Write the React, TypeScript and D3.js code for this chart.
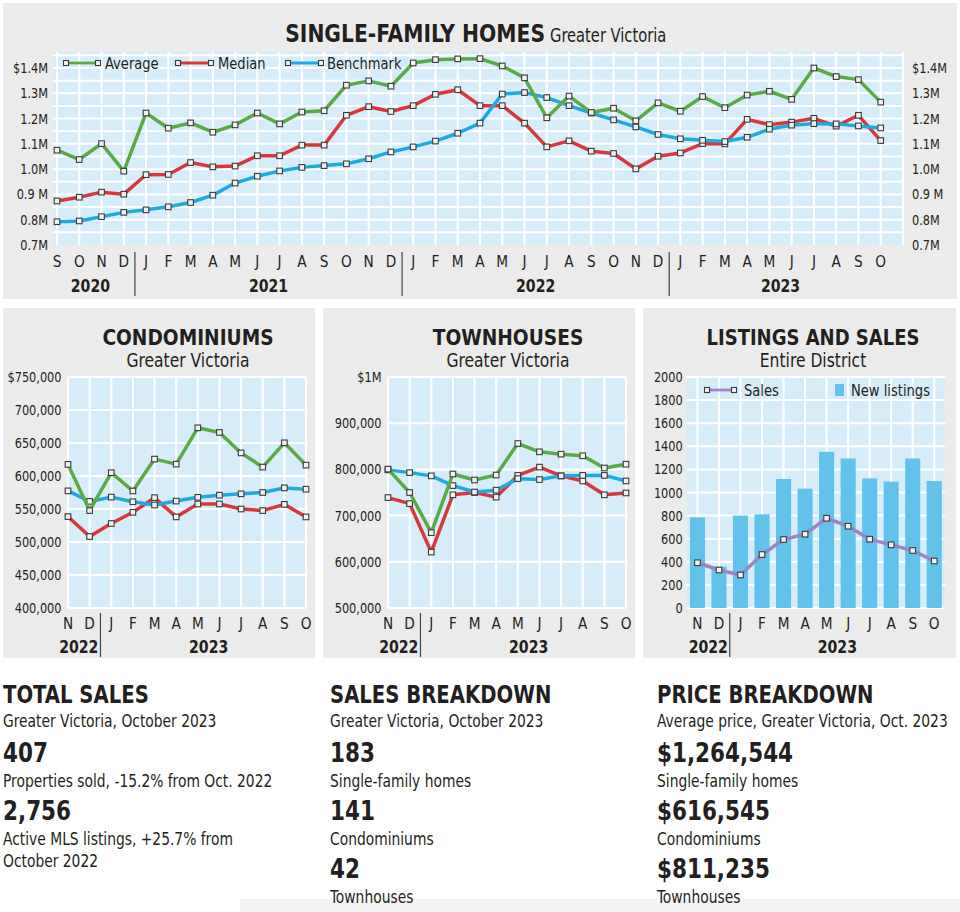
import React from 'react';
import * as d3 from 'd3';

const FONT = "'DejaVu Sans Condensed', 'Liberation Sans Narrow', 'Open Sans', sans-serif";

// ---------- Single-family (top) ----------
const topMonths = ['S','O','N','D','J','F','M','A','M','J','J','A','S','O','N','D','J','F','M','A','M','J','J','A','S','O','N','D','J','F','M','A','M','J','J','A','S','O'];
const topYears = [
  { label: '2020', from: 0, to: 3 },
  { label: '2021', from: 4, to: 15 },
  { label: '2022', from: 16, to: 27 },
  { label: '2023', from: 28, to: 37 },
];
const sfAverage = [1.075,1.038,1.101,0.992,1.222,1.162,1.183,1.146,1.175,1.222,1.179,1.226,1.231,1.332,1.349,1.328,1.42,1.433,1.436,1.437,1.408,1.361,1.203,1.289,1.224,1.241,1.191,1.262,1.229,1.287,1.243,1.293,1.308,1.276,1.4,1.366,1.354,1.265];
const sfMedian = [0.874,0.889,0.909,0.901,0.978,0.979,1.026,1.009,1.012,1.053,1.053,1.095,1.095,1.213,1.247,1.228,1.251,1.296,1.314,1.251,1.251,1.182,1.088,1.112,1.071,1.062,1.001,1.051,1.064,1.101,1.1,1.197,1.176,1.186,1.201,1.17,1.213,1.113];
const sfBenchmark = [0.792,0.795,0.812,0.829,0.839,0.851,0.868,0.897,0.945,0.972,0.993,1.007,1.014,1.021,1.041,1.068,1.088,1.111,1.142,1.182,1.297,1.303,1.283,1.251,1.222,1.195,1.167,1.137,1.12,1.114,1.109,1.126,1.158,1.174,1.18,1.179,1.171,1.163];
const sfTicks = [0.7,0.8,0.9,1.0,1.1,1.2,1.3,1.4];
const sfTickLabels = ['0.7M','0.8M','0.9 M','1.0M','1.1M','1.2M','1.3M','$1.4M'];

// ---------- 12-month panels ----------
const shortMonths = ['N','D','J','F','M','A','M','J','J','A','S','O'];
const shortYears = [
  { label: '2022', from: 0, to: 1 },
  { label: '2023', from: 2, to: 11 },
];
const condoAverage = [617600,547600,605000,577300,625600,618000,673000,666000,635000,613500,650300,616500];
const condoMedian = [538500,508300,528000,545000,567200,538000,557600,557600,550000,547600,557000,538000];
const condoBenchmark = [577500,561500,568000,561000,556000,562000,567700,571000,573000,575000,582000,580000];
const condoTicks = [400000,450000,500000,550000,600000,650000,700000,750000];
const condoTickLabels = ['400,000','450,000','500,000','550,000','600,000','650,000','700,000','$750,000'];

const townAverage = [800700,750000,663000,790000,777000,787800,856000,838000,833000,829500,803000,811200];
const townMedian = [739000,726000,621000,745000,750000,740000,787000,805000,786000,775000,745000,749000];
const townBenchmark = [799000,793000,786000,765000,751000,755000,780000,778000,786000,787000,787000,775000];
const townTicks = [500000,600000,700000,800000,900000,1000000];
const townTickLabels = ['500,000','600,000','700,000','800,000','900,000','$1M'];

const newListings = [785,358,800,811,1117,1033,1352,1295,1122,1094,1295,1099];
const sales = [392,329,286,463,593,639,777,708,596,547,498,407];
const listTicks = [0,200,400,600,800,1000,1200,1400,1600,1800,2000];

// ---------- text blocks ----------
const totalSalesLines = [
  { t: 'TOTAL SALES', k: 'h' },
  { t: 'Greater Victoria, October 2023', k: 's' },
  { t: '407', k: 'n' },
  { t: 'Properties sold, -15.2% from Oct. 2022', k: 's' },
  { t: '2,756', k: 'n' },
  { t: 'Active MLS listings, +25.7% from', k: 's' },
  { t: 'October 2022', k: 's2' },
];
const salesBreakdownLines = [
  { t: 'SALES BREAKDOWN', k: 'h' },
  { t: 'Greater Victoria, October 2023', k: 's' },
  { t: '183', k: 'n' },
  { t: 'Single-family homes', k: 's' },
  { t: '141', k: 'n' },
  { t: 'Condominiums', k: 's' },
  { t: '42', k: 'n' },
  { t: 'Townhouses', k: 's' },
];
const priceBreakdownLines = [
  { t: 'PRICE BREAKDOWN', k: 'h' },
  { t: 'Average price, Greater Victoria, Oct. 2023', k: 's' },
  { t: '$1,264,544', k: 'n' },
  { t: 'Single-family homes', k: 's' },
  { t: '$616,545', k: 'n' },
  { t: 'Condominiums', k: 's' },
  { t: '$811,235', k: 'n' },
  { t: 'Townhouses', k: 's' },
];

const GREEN = '#5aaa46';
const RED = '#d8383b';
const BLUE = '#1fa9e1';
const PURPLE = '#9a86c2';
const PLOT_BG = '#d6edf9';
const PANEL_BG = '#ebebeb';
const TEXT = '#231f20';
const BAR = '#62c2eb';

function T({ x, y, size, bold, anchor, sx, children }: any) {
  return (
    <text
      transform={`translate(${x},${y}) scale(${sx ?? 0.9},1)`}
      fontFamily={FONT}
      fontSize={size}
      fontWeight={bold ? 'bold' : 'normal'}
      textAnchor={anchor || 'start'}
      fill={TEXT}
    >
      {children}
    </text>
  );
}

function Markers({ pts, s = 5.6 }: { pts: [number, number][]; s?: number }) {
  return (
    <g>
      {pts.map((p, i) => (
        <rect key={i} x={p[0] - s / 2} y={p[1] - s / 2} width={s} height={s} fill="#f2f2f2" stroke="#3a3a3a" strokeWidth={1.1} />
      ))}
    </g>
  );
}

function Series({ data, x, y, color }: { data: number[]; x: (i: number) => number; y: any; color: string }) {
  const pts: [number, number][] = data.map((v, i) => [x(i), y(v)]);
  const line = d3.line<[number, number]>().x(d => d[0]).y(d => d[1]);
  return (
    <g>
      <path d={line(pts) || ''} fill="none" stroke={color} strokeWidth={3.5} strokeLinejoin="round" strokeLinecap="round" />
      <Markers pts={pts} />
    </g>
  );
}

function LegendLine({ x1, x2, y, color }: { x1: number; x2: number; y: number; color: string }) {
  return (
    <g>
      <line x1={x1} x2={x2} y1={y} y2={y} stroke={color} strokeWidth={2.8} />
      <Markers pts={[[x1, y], [x2, y]]} s={5} />
    </g>
  );
}

function MonthAxis({ xs, months, years, monthY, yearY, sepTop, sepBot }: any) {
  return (
    <g>
      {months.map((m: string, i: number) => (
        <T key={i} x={xs(i)} y={monthY} anchor="middle" size={16} sx={0.95}>{m}</T>
      ))}
      {years.map((yr: any, i: number) => (
        <T key={'y' + i} x={(xs(yr.from) + xs(yr.to)) / 2} y={yearY} anchor="middle" size={18} bold sx={0.87}>{yr.label}</T>
      ))}
      {years.slice(1).map((yr: any, i: number) => {
        const sx = (xs(yr.from - 1) + xs(yr.from)) / 2;
        return <line key={'s' + i} x1={sx} x2={sx} y1={sepTop} y2={sepBot} stroke="#444" strokeWidth={1.2} />;
      })}
    </g>
  );
}

function TopChart() {
  const left = 53, right = 903, top = 52, bottom = 245;
  const x = d3.scaleLinear().domain([0, topMonths.length - 1]).range([57, 880.7]);
  const y = d3.scaleLinear().domain([0.7, 1.4]).range([245, 68]);
  const hGrid = d3.range(0.75, 1.46, 0.05);
  const vGrid = d3.range(0, topMonths.length + 1).map(i => x(i)).filter(v => v <= right + 0.5);
  return (
    <g>
      <rect x={3} y={3} width={954} height={296} fill={PANEL_BG} />
      <rect x={left} y={top} width={right - left} height={bottom - top} fill={PLOT_BG} />
      {hGrid.map((g, i) => (
        <line key={'h' + i} x1={left} x2={right} y1={y(g)} y2={y(g)} stroke="#fff" strokeWidth={2} />
      ))}
      {vGrid.map((g, i) => (
        <line key={'v' + i} x1={g} x2={g} y1={top} y2={bottom} stroke="#fff" strokeWidth={2} />
      ))}
      <T x={545} y={42} anchor="end" size={24} bold sx={0.94}>SINGLE-FAMILY HOMES</T>
      <T x={550} y={42} size={19} sx={0.86}>Greater Victoria</T>
      {sfTicks.map((t, i) => (
        <T key={'l' + i} x={48} y={y(t) + 5} anchor="end" size={14} sx={0.9}>{sfTickLabels[i]}</T>
      ))}
      {sfTicks.map((t, i) => (
        <T key={'r' + i} x={912} y={y(t) + 5} size={14} sx={0.9}>{sfTickLabels[i]}</T>
      ))}
      <Series data={sfMedian} x={x} y={y} color={RED} />
      <Series data={sfBenchmark} x={x} y={y} color={BLUE} />
      <Series data={sfAverage} x={x} y={y} color={GREEN} />
      <LegendLine x1={66} x2={98} y={63} color={GREEN} />
      <T x={105} y={69} size={16} sx={0.91}>Average</T>
      <LegendLine x1={178} x2={211} y={63} color={RED} />
      <T x={218} y={69} size={16} sx={0.91}>Median</T>
      <LegendLine x1={288} x2={321} y={63} color={BLUE} />
      <T x={327} y={69} size={16} sx={0.91}>Benchmark</T>
      <MonthAxis xs={x} months={topMonths} years={topYears} monthY={267} yearY={292} sepTop={252} sepBot={296} />
    </g>
  );
}

function SmallLineChart({ ox, title, subtitle, ticks, tickLabels, avg, med, bench }: any) {
  const left = ox + 68, right = ox + 306, top = 377, bottom = 608;
  const x = d3.scaleLinear().domain([0, shortMonths.length - 1]).range([left, right]);
  const y = d3.scaleLinear().domain([ticks[0], ticks[ticks.length - 1]]).range([bottom, top]);
  return (
    <g>
      <rect x={ox + 3} y={308} width={312} height={350} fill={PANEL_BG} />
      <rect x={left} y={top} width={right - left} height={bottom - top} fill={PLOT_BG} />
      {ticks.map((t: number, i: number) => (
        <line key={'h' + i} x1={left} x2={right} y1={y(t)} y2={y(t)} stroke="#fff" strokeWidth={2} />
      ))}
      {shortMonths.map((m, i) => (
        <line key={'v' + i} x1={x(i)} x2={x(i)} y1={top} y2={bottom} stroke="#fff" strokeWidth={2} />
      ))}
      <T x={ox + 188} y={345} anchor="middle" size={22} bold sx={0.94}>{title}</T>
      <T x={ox + 188} y={367} anchor="middle" size={19} sx={0.91}>{subtitle}</T>
      {ticks.map((t: number, i: number) => (
        <T key={'l' + i} x={ox + 61.5} y={y(t) + 5} anchor="end" size={14} sx={0.9}>{tickLabels[i]}</T>
      ))}
      <Series data={med} x={x} y={y} color={RED} />
      <Series data={bench} x={x} y={y} color={BLUE} />
      <Series data={avg} x={x} y={y} color={GREEN} />
      <MonthAxis xs={x} months={shortMonths} years={shortYears} monthY={629} yearY={653} sepTop={613} sepBot={657} />
    </g>
  );
}

function ListingsChart() {
  const ox = 640;
  const left = ox + 46.7, right = ox + 305, top = 377, bottom = 608;
  const xb = d3.scaleBand<number>().domain(d3.range(shortMonths.length)).range([left, right]).paddingInner(0.3).paddingOuter(0.15);
  const xc = (i: number) => (xb(i) as number) + xb.bandwidth() / 2;
  const y = d3.scaleLinear().domain([0, 2000]).range([bottom, top]);
  return (
    <g>
      <rect x={ox + 3} y={308} width={313} height={350} fill={PANEL_BG} />
      <rect x={left} y={top} width={right - left} height={bottom - top} fill={PLOT_BG} />
      {listTicks.map((t, i) => (
        <line key={'h' + i} x1={left} x2={right} y1={y(t)} y2={y(t)} stroke="#fff" strokeWidth={2} />
      ))}
      {shortMonths.map((m, i) => (
        <line key={'v' + i} x1={xc(i)} x2={xc(i)} y1={top} y2={bottom} stroke="#fff" strokeWidth={2} />
      ))}
      {newListings.map((v, i) => (
        <rect key={'b' + i} x={xb(i) as number} y={y(v)} width={xb.bandwidth()} height={bottom - y(v)} fill={BAR} />
      ))}
      <T x={ox + 173} y={345} anchor="middle" size={22} bold sx={0.91}>LISTINGS AND SALES</T>
      <T x={ox + 173} y={367} anchor="middle" size={19} sx={0.91}>Entire District</T>
      {listTicks.map((t, i) => (
        <T key={'l' + i} x={ox + 42.7} y={y(t) + 5} anchor="end" size={14} sx={0.9}>{String(t)}</T>
      ))}
      <Series data={sales} x={xc} y={y} color={PURPLE} />
      <LegendLine x1={ox + 67} x2={ox + 94} y={390} color={PURPLE} />
      <T x={ox + 104} y={396} size={16} sx={0.91}>Sales</T>
      <rect x={ox + 195} y={384} width={9} height={12} fill={BAR} />
      <T x={ox + 211} y={396} size={16} sx={0.91}>New listings</T>
      <MonthAxis xs={xc} months={shortMonths} years={shortYears} monthY={629} yearY={653} sepTop={613} sepBot={657} />
    </g>
  );
}

function TextBlock({ x, lines }: { x: number; lines: { t: string; k: string }[] }) {
  const ys = [703, 727, 762, 787, 820, 845, 878, 903];
  return (
    <g>
      {lines.map((l, i) => {
        let yy = ys[i];
        if (l.k === 's2') yy = 867;
        const size = l.k === 'h' ? 24 : l.k === 'n' ? 26 : 17.5;
        const bold = l.k === 'h' || l.k === 'n';
        const sx = l.k === 'h' ? 0.91 : l.k === 'n' ? 0.92 : 0.88;
        return (
          <T key={i} x={x} y={yy} size={size} bold={bold} sx={sx}>{l.t}</T>
        );
      })}
    </g>
  );
}

export default function App() {
  return (
    <svg width={960} height={912} viewBox="0 0 960 912" style={{ position: 'absolute', left: 0, top: 0, background: '#fff' }}>
      <rect x={0} y={0} width={960} height={912} fill="#fff" />
      <TopChart />
      <SmallLineChart ox={0} title="CONDOMINIUMS" subtitle="Greater Victoria" ticks={condoTicks} tickLabels={condoTickLabels} avg={condoAverage} med={condoMedian} bench={condoBenchmark} />
      <SmallLineChart ox={320} title="TOWNHOUSES" subtitle="Greater Victoria" ticks={townTicks} tickLabels={townTickLabels} avg={townAverage} med={townMedian} bench={townBenchmark} />
      <ListingsChart />
      <rect x={240} y={899} width={720} height={13} fill="#f3f3f3" />
      <TextBlock x={3} lines={totalSalesLines} />
      <TextBlock x={330} lines={salesBreakdownLines} />
      <TextBlock x={657} lines={priceBreakdownLines} />
    </svg>
  );
}
